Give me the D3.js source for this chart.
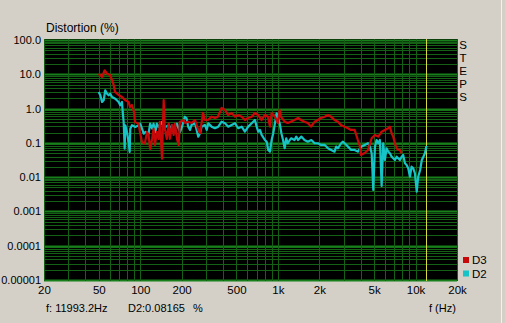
<!DOCTYPE html>
<html><head><meta charset="utf-8">
<script src="https://cdn.jsdelivr.net/npm/d3@7"></script>
<style>html,body{margin:0;padding:0;background:#d4d0c8;overflow:hidden}svg{display:block}</style>
</head><body><svg id="c" width="505" height="323"></svg>
<script>
const xTickValues=[20,50,100,200,500,1000,2000,5000,10000,20000];
const xTickLabels=["20","50","100","200","500","1k","2k","5k","10k","20k"];
const yTickValues=[100,10,1,0.1,0.01,0.001,0.0001,0.00001];
const yTickLabels=["100.0","10.0","1.0","0.1","0.01","0.001","0.0001","0.00001"];
const seriesNames=["D3","D2"];
const cursorFreq=11993.2;
const cursorVal=0.08165;

const d3Freq=[49.9,52.8,55.2,57.4,60.3,64.1,65.6,69.7,73.7,77.5,82.4,84.2,87.1,90.1,91.6,97.4,99.6,103,108,112,115,118,122,125,128,132,136,139,144,148,151,156,161,164,170,175,179,185,190,194,207,211,222,236,250,264,272,279,286,295,310,330,349,367,390,413,434,461,488,513,546,576,606,645,681,716,762,805,847,876,901,952,1000,1030,1050,1120,1180,1240,1320,1400,1470,1560,1650,1740,1850,1950,2050,2190,2310,2430,2580,2730,2870,3050,3230,3390,3610,3810,3920,4010,4270,4510,4800,5070,5360,5670,5990,6330,6510,6700,6880,7080,7290,7480,7700,7920];
const d3Vals=[10.4,8.34,13.1,10.4,9.54,4.88,3.05,2.49,2.18,1.78,1.56,1.11,1.27,0.796,0.407,0.363,0.208,0.106,0.0948,0.208,0.170,0.0664,0.130,0.259,0.0869,0.208,0.130,0.407,0.0346,1.78,0.259,0.130,0.363,0.130,0.333,0.170,0.363,0.130,0.0869,0.407,0.465,0.380,0.415,0.380,0.465,0.238,0.194,0.380,0.744,0.465,0.465,0.580,0.532,0.580,1.04,0.910,0.651,0.744,0.580,0.651,0.580,0.465,0.532,0.580,0.744,0.651,0.465,0.651,0.580,0.297,0.744,0.580,0.380,0.910,0.580,0.415,0.380,0.415,0.465,0.532,0.465,0.415,0.380,0.297,0.415,0.465,0.532,0.580,0.651,0.580,0.465,0.415,0.333,0.297,0.267,0.238,0.238,0.121,0.0869,0.0444,0.0508,0.0621,0.136,0.170,0.152,0.212,0.238,0.267,0.297,0.191,0.152,0.0973,0.0696,0.0621,0.0621,0.0497];

const d2Freq=[49.9,51.3,52.8,54.3,55.7,57.4,59.0,60.6,62.4,65.9,69.7,71.6,73.7,74.6,75.8,77.1,77.9,80.1,82.4,83.8,84.7,87.1,92.1,97.4,100,103,106,109,115,118,122,125,129,132,136,144,148,152,161,170,175,180,185,190,195,201,207,211,217,223,230,236,250,257,264,272,279,295,304,312,330,349,369,390,413,436,461,488,515,546,576,609,645,662,681,701,720,741,762,805,829,851,876,901,925,952,980,1000,1030,1060,1090,1120,1150,1180,1220,1250,1320,1360,1400,1480,1520,1560,1650,1750,1850,1950,2060,2190,2310,2440,2580,2650,2730,2880,2970,3050,3230,3410,3610,3810,4030,4270,4510,4660,4800,4930,5070,5210,5360,5510,5670,5820,5990,6160,6330,6510,6700,6880,7080,7290,7480,7700,7920,8130,8370,8610,8850,9100,9360,9610,9890,10200,10450,10800,11100,11400,11700,12000];
const d2Vals=[3.05,2.44,1.56,1.75,3.42,2.72,2.44,2.72,2.18,1.94,1.56,1.25,1.56,0.796,0.407,0.0677,0.326,0.208,0.106,0.0543,0.259,0.326,0.291,0.326,0.363,0.259,0.185,0.208,0.185,0.363,0.259,0.363,0.208,0.363,0.291,0.407,0.259,0.291,0.326,0.259,0.208,0.326,0.363,0.259,0.208,0.291,0.465,0.580,0.521,0.297,0.238,0.333,0.373,0.238,0.152,0.191,0.297,0.333,0.238,0.373,0.297,0.267,0.297,0.415,0.373,0.297,0.333,0.373,0.267,0.297,0.212,0.297,0.373,0.415,0.465,0.297,0.212,0.238,0.170,0.121,0.108,0.0621,0.0554,0.121,0.191,0.373,0.729,0.580,0.373,0.191,0.121,0.0696,0.136,0.0973,0.121,0.136,0.121,0.152,0.121,0.152,0.136,0.121,0.108,0.121,0.0973,0.0973,0.0869,0.0869,0.0696,0.0621,0.0554,0.0775,0.0696,0.0973,0.108,0.0973,0.0775,0.0621,0.0621,0.0554,0.0775,0.0869,0.0973,0.0775,0.0497,0.00423,0.0775,0.121,0.0973,0.121,0.00554,0.0973,0.0317,0.0696,0.0554,0.0497,0.0396,0.0356,0.0317,0.0396,0.0356,0.0317,0.0396,0.0444,0.0254,0.0227,0.0182,0.0103,0.0202,0.0182,0.0130,0.00378,0.0103,0.0162,0.0317,0.0396,0.0497,0.0817];

const FONT="'Liberation Sans', Arial, sans-serif";
const svg=d3.select("#c");
const L=44,R=457,T=40,B=280;
const x=d3.scaleLog().domain([20,20000]).range([L,R]);
const y=d3.scaleLog().domain([0.00001,100]).range([B,T]);

svg.append("rect").attr("x",L).attr("y",T-1).attr("width",R-L).attr("height",B-T+2).attr("fill","#000");

const xGrid=[],yGrid=[];
[10,100,1000,10000].forEach(dec=>{for(let m=1;m<=9;m++){const v=m*dec;if(v>=20&&v<=20000)xGrid.push({v,major:m===1});}});
[0.00001,0.0001,0.001,0.01,0.1,1,10].forEach(dec=>{for(let m=1;m<=9;m++){yGrid.push({v:m*dec,major:m===1});}});
yGrid.push({v:100,major:true});

const g=svg.append("g");
g.selectAll("line.hx").data(yGrid).join("line")
 .attr("x1",L).attr("x2",R)
 .attr("y1",d=>Math.round(y(d.v))+0.5).attr("y2",d=>Math.round(y(d.v))+0.5)
 .attr("stroke",d=>d.major?"#17801a":"#146014").attr("stroke-width",d=>d.major?2:1);
g.selectAll("line.vx").data(xGrid).join("line")
 .attr("y1",T-1).attr("y2",B+1)
 .attr("x1",d=>Math.round(x(d.v))+0.5).attr("x2",d=>Math.round(x(d.v))+0.5)
 .attr("stroke","#146014").attr("stroke-width",1);

svg.append("line").attr("x1",Math.round(x(cursorFreq))+0.5).attr("x2",Math.round(x(cursorFreq))+0.5)
 .attr("y1",T-1).attr("y2",B+1).attr("stroke","#d8d840").attr("stroke-width",1);

const line=d3.line().x(d=>x(d[0])).y(d=>y(d[1]));
const s2=d2Freq.map((f,i)=>[f,d2Vals[i]]);
const s3=d3Freq.map((f,i)=>[f,d3Vals[i]]);
svg.append("path").datum(s2).attr("d",line).attr("fill","none").attr("stroke","#16c4c8").attr("stroke-width",2.2).attr("stroke-linejoin","round");
svg.append("path").datum(s3).attr("d",line).attr("fill","none").attr("stroke","#c80808").attr("stroke-width",2.2).attr("stroke-linejoin","round");

const xa=svg.append("g").attr("transform",`translate(0,${B+6})`)
 .call(d3.axisBottom(x).tickValues(xTickValues).tickFormat((d,i)=>xTickLabels[i]).tickSize(0).tickPadding(0));
xa.select(".domain").remove();
xa.selectAll("text").attr("font-family",FONT).attr("font-size","11.5px").attr("fill","#000").attr("dy","0.71em");

const ya=svg.append("g").attr("transform",`translate(${L-3},0)`)
 .call(d3.axisLeft(y).tickValues(yTickValues).tickFormat((d,i)=>yTickLabels[i]).tickSize(0).tickPadding(0));
ya.select(".domain").remove();
ya.selectAll("text").attr("font-family",FONT).attr("font-size","11px").attr("fill","#000");

svg.append("text").attr("x",46).attr("y",31.5).attr("font-family",FONT).attr("font-size","12px").text("Distortion (%)");

"STEPS".split("").forEach((c,i)=>{
 svg.append("text").attr("x",463).attr("y",49+i*13).attr("text-anchor","middle")
  .attr("font-family",FONT).attr("font-size","11.5px").text(c);
});

const colors={"D3":"#c80808","D2":"#16c4c8"};
seriesNames.forEach((n,i)=>{
 svg.append("rect").attr("x",463).attr("y",257+i*13.5).attr("width",6).attr("height",6).attr("fill",colors[n]);
 svg.append("text").attr("x",472).attr("y",264+i*13.5).attr("font-family",FONT).attr("font-size","11.5px").text(n);
});

svg.append("text").attr("x",46).attr("y",312).attr("font-family",FONT).attr("font-size","11px").text("f: "+cursorFreq.toFixed(1)+"Hz");
svg.append("text").attr("x",128).attr("y",312).attr("font-family",FONT).attr("font-size","11px").text("D2:"+cursorVal.toFixed(5));
svg.append("text").attr("x",193).attr("y",312).attr("font-family",FONT).attr("font-size","11px").text("%");
svg.append("text").attr("x",429).attr("y",312).attr("font-family",FONT).attr("font-size","11px").text("f (Hz)");

svg.append("line").attr("x1",501.5).attr("x2",501.5).attr("y1",0).attr("y2",323).attr("stroke","#f4f2ee");
</script></body></html>
